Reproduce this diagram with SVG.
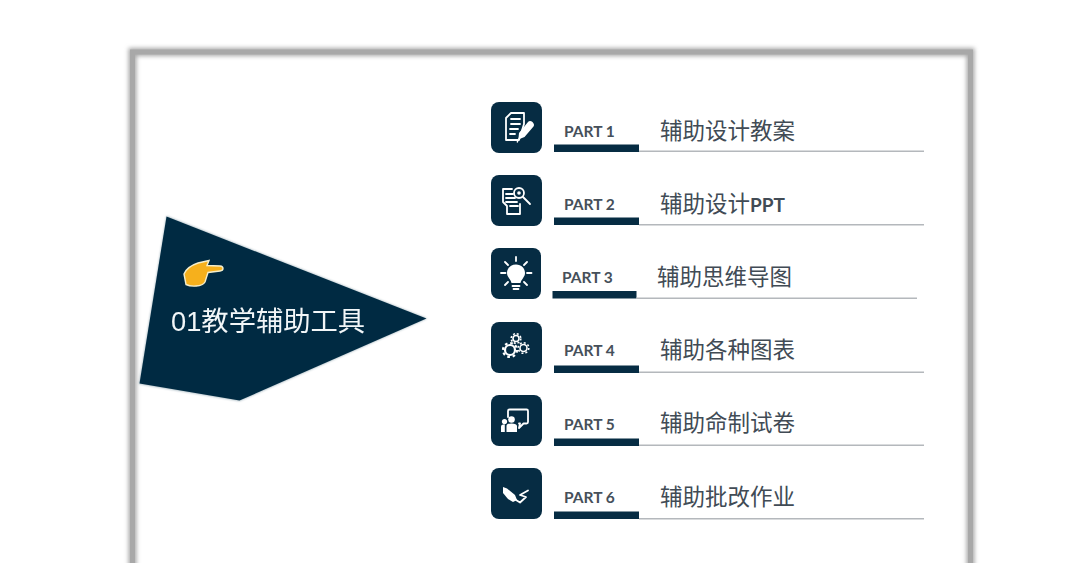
<svg xmlns="http://www.w3.org/2000/svg" width="1080" height="563" viewBox="0 0 1080 563">
<style>
.tile{fill:#062c43}
.bar{fill:#062c43}
.rule{stroke:#b4b8bc;stroke-width:1.6;fill:none}
.part{font:700 15.500px Lato,"Noto Sans CJK SC",sans-serif;fill:#46505a}
.title{font:400 22.500px "Liberation Sans","Noto Sans CJK SC",sans-serif;fill:#414b55}
.i{fill:none;stroke:#fff;stroke-width:1.800;stroke-linecap:round;stroke-linejoin:round}
.f{fill:#fff}
</style>
<defs>
<filter id="soft" x="-5%" y="-5%" width="110%" height="110%"><feGaussianBlur stdDeviation="2.200"/></filter>
<filter id="glow" x="-5%" y="-5%" width="110%" height="110%"><feGaussianBlur stdDeviation="1"/></filter>
<filter id="s" x="-5%" y="-5%" width="110%" height="110%"><feGaussianBlur stdDeviation="0.4"/></filter>
<filter id="e" x="-5%" y="-5%" width="110%" height="110%"><feGaussianBlur stdDeviation="0.5"/></filter>
</defs>
<rect width="1080" height="563" fill="#fff"/>
<g id="frame">
<path d="M132.500 575V52H970.500V575" fill="none" stroke="#a8a8a8" stroke-width="8" filter="url(#soft)"/>
<path d="M132.500 575V52H970.500V575" fill="none" stroke="#a8a8a8" stroke-width="5" filter="url(#e)"/>
</g>
<g id="pointer">
<polygon points="166.500,216 427,318.500 239.500,401 139,384" fill="#7f98a4" filter="url(#glow)" opacity="0.700"/>
<polygon points="166.500,216.500 426.500,318.500 239.500,400.500 139.500,383.500" fill="#062c43" filter="url(#s)"/>
<g filter="url(#s)">
<path d="M184 274C186 269 192 265 198 263L209 260.500 207 265.500 220 266C224 266.500 224 270.500 220 271L208 272.500 205 282C202 287 191 287 186 284.500Z" fill="#f6b01c" stroke="#f5eecb" stroke-width="1.400"/>
</g>
<text x="171" y="331" font-family="'Liberation Sans','Noto Sans CJK SC',sans-serif" font-size="27.300" fill="#f2f6f8" filter="url(#s)">01教学辅助工具</text>
</g>
<g id="part1">
<rect class="tile" x="491" y="102" width="51" height="51" rx="8"/>
<g>
<path class="i" d="M506 118l5-5h13v11l-5 16h-13z"/>
<path class="i" d="M511 119h9M511 124h9M510 129h8M510 134h5" stroke-width="1.500"/>
<path class="f" d="M519 133l9-11c1-1.500 3-1.500 4.500 0s2 3 1 4.500l-9 10.500-5 2-2 4-1-1 2-4z"/>
</g>
<text class="part" x="564" y="137">PART 1</text>
<rect class="bar" x="554" y="144.500" width="85" height="7.500"/>
<path class="rule" d="M639 151.200H924"/>
<text class="title" x="660" y="139">辅助设计教案</text>
</g>
<g id="part2">
<rect class="tile" x="491" y="175" width="51" height="51" rx="8"/>
<g>
<path class="i" d="M512 189h-9v13l4 4v8h13v-10"/>
<path class="i" d="M506 194h7M506 198h9M506 202h11M510 206h8" stroke-width="1.500"/>
<circle class="i" cx="519" cy="193" r="5"/>
<circle class="f" cx="519" cy="193" r="1.800"/>
<path class="i" d="M523 197l7 7" stroke-width="2.200"/>
</g>
<text class="part" x="564" y="210">PART 2</text>
<rect class="bar" x="554" y="217.500" width="85" height="7.500"/>
<path class="rule" d="M639 224.800H924"/>
<text class="title" x="660" y="212">辅助设计<tspan font-weight="700" font-family="Lato,sans-serif" font-size="19">PPT</tspan></text>
</g>
<g id="part3">
<rect class="tile" x="491" y="248" width="50" height="51" rx="8"/>
<g>
<path class="f" d="M516 264.500c5.500 0 9 4 9 8.500 0 4-3.500 6-4.500 10h-9c-1-4-4.500-6-4.500-10 0-4.500 3.500-8.500 9-8.500z"/>
<path class="i" d="M512.500 286h7M513.500 289h5" stroke-width="1.500"/>
<path class="i" d="M516 257v4M505 262l3 3M527 262l-3 3M501 273h4.500M527 273h4.500M505 285l3-3M527 285l-3-3"/>
</g>
<text class="part" x="562" y="283">PART 3</text>
<rect class="bar" x="552.500" y="291" width="84" height="7.500"/>
<path class="rule" d="M636 298.200H917"/>
<text class="title" x="657" y="285">辅助思维导图</text>
</g>
<g id="part4">
<rect class="tile" x="491" y="322" width="51" height="51" rx="8"/>
<g fill="none" stroke="#fff">
<circle cx="510" cy="350" r="5" stroke-width="2.200"/><circle cx="510" cy="350" r="7" stroke-width="2.200" stroke-dasharray="2.700 2.800"/>
<circle cx="516" cy="338.500" r="3" stroke-width="1.600"/><circle cx="516" cy="338.500" r="4.800" stroke-width="1.600" stroke-dasharray="2 1.800"/>
<circle cx="523.500" cy="348" r="3.500" stroke-width="1.600"/><circle cx="523.500" cy="348" r="5.300" stroke-width="1.600" stroke-dasharray="2 2.100"/>
</g>
<text class="part" x="564" y="356">PART 4</text>
<rect class="bar" x="554" y="365.500" width="85" height="7.500"/>
<path class="rule" d="M639 372.200H924"/>
<text class="title" x="660" y="358">辅助各种图表</text>
</g>
<g id="part5">
<rect class="tile" x="491" y="395" width="51" height="51" rx="8"/>
<g>
<path class="i" d="M508 417v-6c0-1 .500-1.500 1.500-1.500h17c1 0 1.500 .500 1.500 1.500v11c0 1-.500 1.500-1.500 1.500h-3l-4.500 4.500 1-4.500h-1" stroke-width="1.200"/>
<circle class="f" cx="511.500" cy="419.500" r="3.300"/><circle class="f" cx="504.500" cy="421.500" r="2.600"/>
<path class="f" d="M506.500 432v-6c0-1.500 1.500-2.500 5-2.500s5.500 1 5.500 2.500v6zM501 432v-5c0-2 1-2.800 3.800-2.800v7.800z"/>
</g>
<text class="part" x="564" y="430">PART 5</text>
<rect class="bar" x="554" y="438.500" width="85" height="7.500"/>
<path class="rule" d="M639 445.200H924"/>
<text class="title" x="660" y="431">辅助命制试卷</text>
</g>
<g id="part6">
<rect class="tile" x="491" y="468" width="51" height="51" rx="8"/>
<g>
<path class="f" d="M503 487l4 1.500 8 6.500 2 5-4 2-5-3-5-6z"/>
<path class="i" d="M516 500l4 2.500 6-5.500-6-2 8-4.500" stroke-width="1.500"/>
</g>
<text class="part" x="564" y="503">PART 6</text>
<rect class="bar" x="554" y="511.500" width="85" height="7.500"/>
<path class="rule" d="M639 518.800H924"/>
<text class="title" x="660" y="505">辅助批改作业</text>
</g>
</svg>
